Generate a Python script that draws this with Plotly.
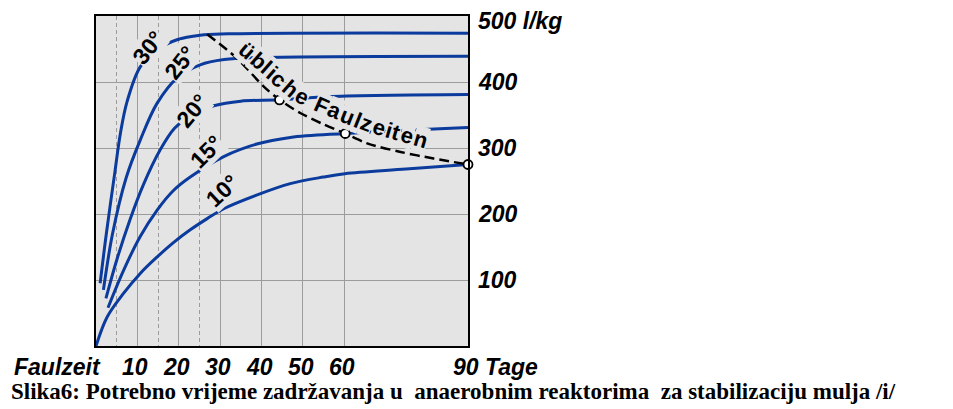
import math
import plotly.graph_objects as go

# ---------------- data ----------------
days_30 = [1.0, 2.5, 4.6, 5.9, 7.5, 10.7, 14.8, 19.6, 25.2, 32.0, 90.0]
vals_30 = [95, 170, 265, 322, 370, 423, 449, 464, 471, 473, 474]

days_25 = [1.8, 4.0, 7.3, 10.7, 14.8, 19.6, 25.2, 31.0, 40.0, 90.0]
vals_25 = [85, 170, 255, 312, 368, 406, 426, 434, 437, 439]

days_20 = [2.4, 5.0, 8.2, 11.5, 15.5, 19.0, 23.0, 28.5, 35.0, 44.4, 57.0, 90.0]
vals_20 = [72, 130, 191, 245, 297, 330, 350, 364, 371, 373, 378, 381]

days_15 = [2.9, 6.7, 10.7, 14.8, 18.8, 22.8, 30.9, 38.9, 47.0, 60.3, 75.0, 90.0]
vals_15 = [58, 115, 166, 206, 236, 256, 287, 306, 316, 322, 327, 331]

days_10 = [0, 2.7, 6.7, 10.7, 14.8, 18.8, 22.8, 26.9, 30.9, 39.0, 47.0, 55.0, 60.2, 75.0, 90.0]
vals_10 = [0, 44, 80, 110, 135, 157, 176, 193, 208, 229, 246, 256, 261, 268, 275]

dash_days = [26.9, 34.1, 40.6, 44.4, 49.4, 55.0, 60.3, 65.6, 73.7, 81.7, 90.0]
dash_vals = [472.5, 436, 393, 373, 353, 336, 322, 307, 294, 284, 275]

circle_days = [44.4, 60.3, 90.0]
circle_vals = [373, 322, 275]

x_tick_vals = [10, 20, 30, 40, 50, 60]
x_tick_text = ["10", "20", "30", "40", "50", "60"]
x_minor_vals = [5, 15, 25]
y_tick_vals = [100, 200, 300, 400, 500]
y_tick_text = ["100", "200", "300", "400", "500 l/kg"]

curve_labels = ["30°", "25°", "20°", "15°", "10°"]
dash_label = "übliche Faulzeiten"
x_title = "Faulzeit"
x_end_label = "90 Tage"
caption = "Slika6: Potrebno vrijeme zadržavanja u  anaerobnim reaktorima  za stabilizaciju mulja /i/"

# ---------------- style ----------------
BLUE = "#0b3b9c"
BG = "#e4e4e4"
GRID = "#9c9c9c"
OFF = 8                      # default page body margin
FIG_W, FIG_H = 953 - OFF, 409 - OFF
L, T, W, H = 96 - OFF, 16 - OFF, 372, 330
SANS = "Liberation Sans, Arial, sans-serif"
SERIF = "Liberation Serif, Times New Roman, serif"
LABEL_SIZE = 23


def to_paper(xs, ys):
    """screen pixel position -> paper coords"""
    xp, yp = xs - OFF, ys - OFF
    return (xp - L) / W, 1 - (yp - T) / H


fig = go.Figure()
for d, v in [(days_10, vals_10), (days_15, vals_15), (days_20, vals_20),
             (days_25, vals_25), (days_30, vals_30)]:
    fig.add_trace(go.Scatter(x=d, y=v, mode="lines",
                             line=dict(color=BLUE, width=3, shape="spline", smoothing=1.0),
                             hoverinfo="skip"))

fig.add_trace(go.Scatter(x=dash_days, y=dash_vals, mode="lines",
                         line=dict(color="black", width=2.5, dash="10px,5px",
                                   shape="spline", smoothing=0.8),
                         hoverinfo="skip"))

annotations = []

# degree labels
label_pos = [(148, 48, -52), (180, 63, -52), (192, 111, -50), (206, 152, -45), (222, 191, -43)]
for txt, (xs, ys, ang) in zip(curve_labels, label_pos):
    px_, py_ = to_paper(xs, ys)
    annotations.append(dict(x=px_, y=py_, xref="paper", yref="paper", text=txt,
                            showarrow=False, textangle=ang, bgcolor=BG, borderpad=0,
                            xanchor="center", yanchor="middle",
                            font=dict(family=SANS, size=LABEL_SIZE, color="black", weight="bold")))

# curved "übliche Faulzeiten" text, char by char along a path (screen px)
path = [(241, 46), (298, 95), (330, 109), (370, 125), (428, 142)]
adv = {"ü": .611, "b": .611, "l": .278, "i": .278, "c": .556, "h": .611, "e": .556,
       " ": .278, "F": .611, "a": .556, "u": .611, "z": .5, "t": .333, "n": .611}
seg_len = [math.dist(path[i], path[i + 1]) for i in range(len(path) - 1)]
total_len = sum(seg_len)
total_adv = sum(adv[c] for c in dash_label)
scale = total_len / total_adv


def point_at(s):
    s = max(0.0, min(total_len, s))
    for i, sl in enumerate(seg_len):
        if s <= sl or i == len(seg_len) - 1:
            t = s / sl if sl else 0
            (x0, y0), (x1, y1) = path[i], path[i + 1]
            return x0 + (x1 - x0) * t, y0 + (y1 - y0) * t
        s -= sl


cum = 0.0
for ch in dash_label:
    a = adv[ch]
    s = (cum + a / 2) * scale
    cum += a
    if ch == " ":
        continue
    xs, ys = point_at(s)
    xa, ya = point_at(s - 7)
    xb, yb = point_at(s + 7)
    ang = math.degrees(math.atan2(yb - ya, xb - xa))
    px_, py_ = to_paper(xs, ys)
    annotations.append(dict(x=px_, y=py_, xref="paper", yref="paper", text=ch,
                            showarrow=False, textangle=ang, bgcolor=BG, borderpad=0,
                            xanchor="center", yanchor="middle",
                            font=dict(family=SANS, size=22, color="black", weight="bold")))

fig.add_trace(go.Scatter(x=circle_days, y=circle_vals, mode="markers",
                         marker=dict(size=9, color="white", line=dict(color="black", width=1.8)),
                         cliponaxis=False, hoverinfo="skip"))

lblfont = dict(family=SANS, size=LABEL_SIZE, color="black", weight="bold", style="italic")

# x tick labels (placed on the x axis scale)
_, label_y = to_paper(0, 367)
for v, t in zip(x_tick_vals, x_tick_text):
    annotations.append(dict(x=v, y=label_y, xref="x", yref="paper", text=t, showarrow=False,
                            xanchor="center", yanchor="middle", xshift=-2, font=lblfont))
annotations.append(dict(x=90, y=label_y, xref="x", yref="paper", text=x_end_label, showarrow=False,
                        xanchor="left", yanchor="middle", xshift=-17, font=lblfont))
fx, _ = to_paper(12, 367)
annotations.append(dict(x=fx, y=label_y, xref="paper", yref="paper", text=x_title, showarrow=False,
                        xanchor="left", yanchor="middle", font=lblfont))

# y tick labels (placed on the y axis scale); the top one sits a little lower
ylab_x, _ = to_paper(476, 0)
for v, t in zip(y_tick_vals, y_tick_text):
    annotations.append(dict(x=ylab_x, y=v, xref="paper", yref="y", text=t, showarrow=False,
                            xanchor="left", yanchor="middle", yshift=(-5 if v == 500 else 0),
                            font=lblfont))

cx, cy = to_paper(9, 391)
annotations.append(dict(x=cx, y=cy, xref="paper", yref="paper", text=caption, showarrow=False,
                        xanchor="left", yanchor="middle",
                        font=dict(family=SERIF, size=23, color="black", weight="bold")))

fig.update_layout(
    width=FIG_W, height=FIG_H,
    margin=dict(l=L, r=FIG_W - L - W, t=T, b=FIG_H - T - H, pad=0, autoexpand=False),
    paper_bgcolor="white", plot_bgcolor=BG,
    showlegend=False,
    annotations=annotations,
    xaxis=dict(range=[0, 90], tickvals=x_tick_vals, showticklabels=False,
               showgrid=True, gridcolor=GRID, gridwidth=1, zeroline=False,
               showline=True, linecolor="black", linewidth=2, mirror=True,
               ticks="", automargin=False,
               minor=dict(tickvals=x_minor_vals, showgrid=True, gridcolor=GRID,
                          griddash="4px,3px", gridwidth=1)),
    yaxis=dict(range=[0, 500], tickvals=y_tick_vals, showticklabels=False,
               side="right", showgrid=True, gridcolor=GRID, gridwidth=1, zeroline=False,
               showline=True, linecolor="black", linewidth=2, mirror=True,
               ticks="", automargin=False),
)

fig.write_html("out.html")
